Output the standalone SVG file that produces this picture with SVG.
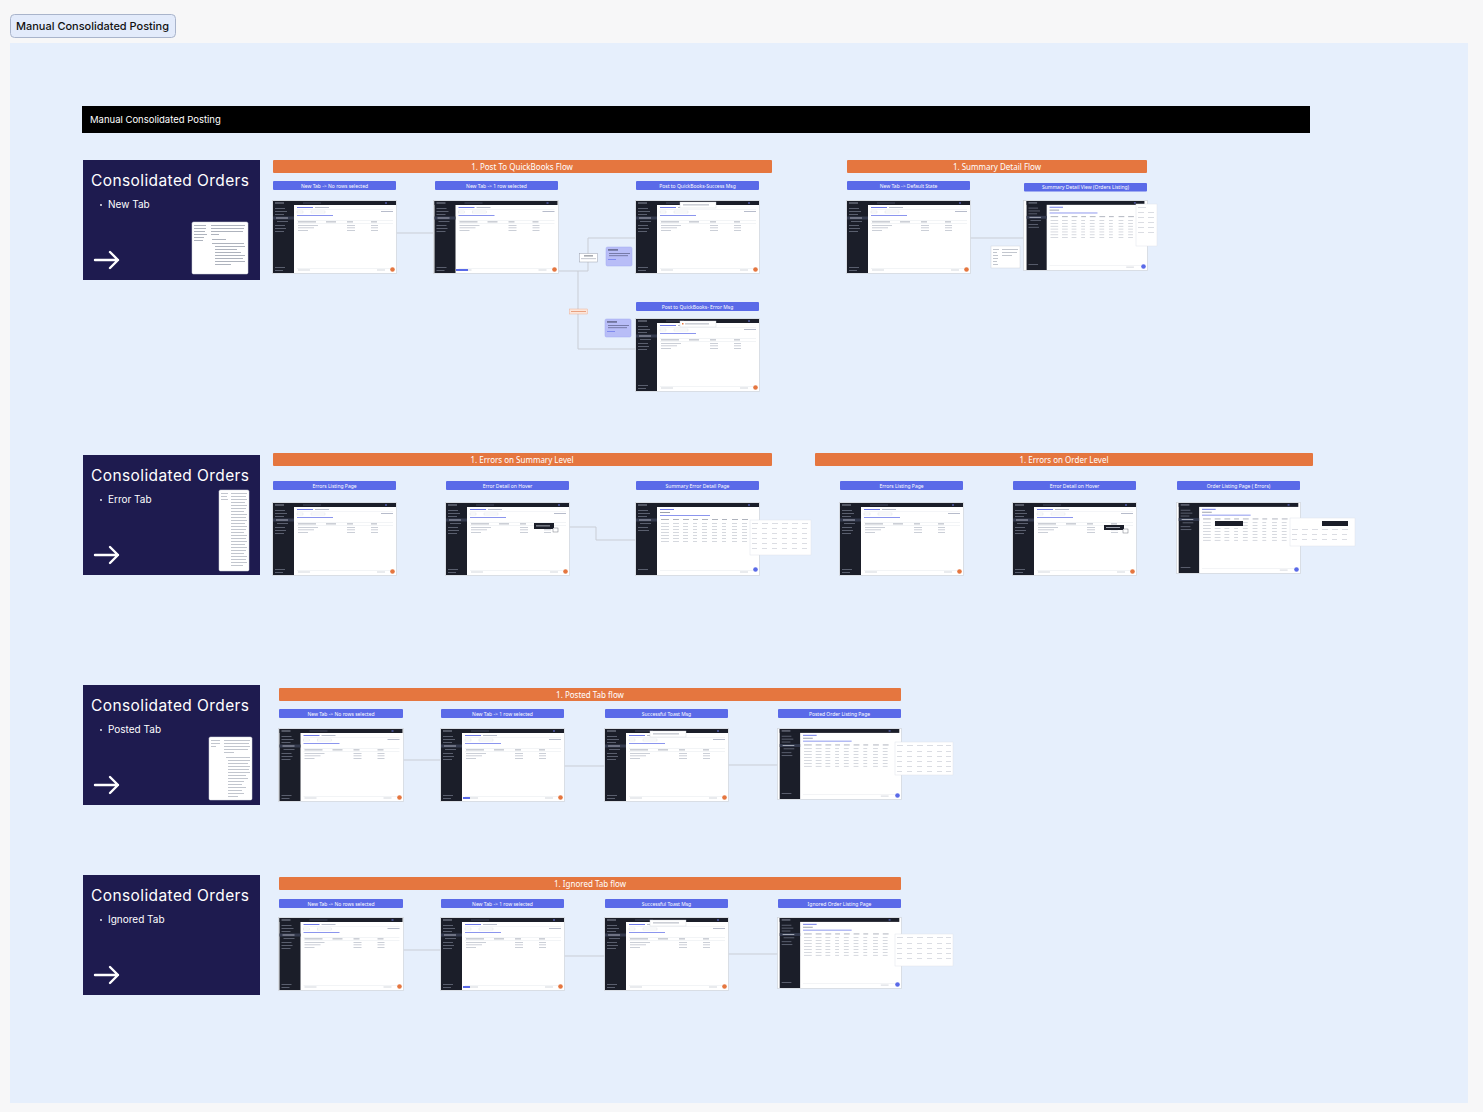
<svg xmlns="http://www.w3.org/2000/svg" xmlns:xlink="http://www.w3.org/1999/xlink" width="1483" height="1112" viewBox="0 0 1483 1112">
<style>
.card{fill:#1e1b4f}
.ctitle{font-family:Inter,"Noto Sans",sans-serif;font-size:15.5px;fill:#ffffff}
.cbullet{font-family:Inter,"Noto Sans",sans-serif;font-size:10px;fill:#ffffff}
.arrow{fill:none;stroke:#ffffff;stroke-width:2.4;stroke-linecap:round;stroke-linejoin:round}
.obar{fill:#e5763f}
.otext{font-family:"Noto Sans",sans-serif;font-size:8px;fill:#ffffff;text-anchor:middle}
.blab{fill:#5a6ae8}
.btext{font-family:"Noto Sans",sans-serif;font-size:5px;fill:#ffffff;text-anchor:middle}
.frameshot{fill:#ffffff;stroke:#d3d7df;stroke-width:0.8}
.conn{fill:none;stroke:#c9cdd5;stroke-width:1}
.note{fill:#ffffff;stroke:#d0d4dc;stroke-width:0.5}
.nl{fill:#9aa0ad}
.lav{fill:#b8bdf7;stroke:#a3a9f0;stroke-width:0.5}
.ov{fill:#ffffff;stroke:#e0e3ea;stroke-width:0.5}
.ovl{fill:#c3c7d1}
</style>
<defs>
<symbol id="shot" viewBox="0 0 123 72">
<rect width="123" height="72" fill="#ffffff"/>
<rect width="21" height="72" fill="#1b1e29"/>
<rect width="123" height="4" fill="#1b1e29"/>
<rect x="2" y="1.5" width="9" height="1" fill="#8b90a0"/>
<rect x="30" y="1" width="18" height="2" fill="#2e3242"/>
<rect x="112" y="1.5" width="2" height="1" fill="#6d78e6"/>
<rect x="2" y="7" width="10" height="0.8" fill="#6b7080"/>
<rect x="2" y="10" width="12" height="0.8" fill="#6b7080"/>
<rect x="2" y="13" width="9" height="0.8" fill="#6b7080"/>
<rect x="0" y="15.5" width="21" height="3" fill="#343a4e"/>
<rect x="3" y="16.6" width="12" height="0.8" fill="#c5c9d4"/>
<rect x="4" y="20" width="11" height="0.8" fill="#6b7080"/>
<rect x="2" y="24" width="10" height="0.8" fill="#6b7080"/>
<rect x="2" y="27" width="11" height="0.8" fill="#6b7080"/>
<rect x="2" y="30" width="9" height="0.8" fill="#6b7080"/>
<rect x="2" y="66" width="10" height="0.8" fill="#6b7080"/>
<rect x="2" y="69" width="8" height="0.8" fill="#6b7080"/>
<rect x="24" y="6" width="16" height="1" fill="#6d78e6"/>
<rect x="42" y="6" width="14" height="1" fill="#b7bccb"/>
<rect x="24" y="8" width="96" height="0.4" fill="#e3e6ec"/>
<rect x="24" y="10" width="6" height="2" fill="none" stroke="#c9cdd8" stroke-width="0.3"/>
<rect x="38" y="10" width="14" height="2" fill="none" stroke="#c9cdd8" stroke-width="0.3"/>
<rect x="108" y="10" width="12" height="1" fill="#b7bccb"/>
<rect x="24" y="14" width="36" height="1" fill="#8b95ee"/>
<rect x="24" y="19" width="96" height="0.4" fill="#dfe2e8"/>
<rect x="25" y="20.5" width="18" height="0.8" fill="#9aa0ad"/>
<rect x="53" y="20.5" width="10" height="0.8" fill="#9aa0ad"/>
<rect x="74" y="20.5" width="6" height="0.8" fill="#9aa0ad"/>
<rect x="98" y="20.5" width="6" height="0.8" fill="#9aa0ad"/>
<rect x="24" y="22.5" width="96" height="0.4" fill="#dfe2e8"/>
<rect x="25" y="24" width="20" height="0.7" fill="#b5bac6"/>
<rect x="74" y="24" width="8" height="0.7" fill="#b5bac6"/>
<rect x="98" y="24" width="7" height="0.7" fill="#b5bac6"/>
<rect x="25" y="26.5" width="16" height="0.7" fill="#b5bac6"/>
<rect x="74" y="26.5" width="8" height="0.7" fill="#b5bac6"/>
<rect x="98" y="26.5" width="7" height="0.7" fill="#b5bac6"/>
<rect x="25" y="29" width="10" height="0.7" fill="#b5bac6"/>
<rect x="74" y="29" width="8" height="0.7" fill="#b5bac6"/>
<rect x="98" y="29" width="7" height="0.7" fill="#b5bac6"/>
<rect x="24" y="67" width="96" height="0.4" fill="#dfe2e8"/>
<rect x="25" y="68.5" width="12" height="1" fill="#d4d7de"/>
<rect x="104" y="68.5" width="8" height="1" fill="#d4d7de"/>
</symbol>
<symbol id="shotT" viewBox="0 0 123 72">
<rect width="123" height="72" fill="#ffffff"/>
<rect width="21" height="72" fill="#1b1e29"/>
<rect width="123" height="4" fill="#1b1e29"/>
<rect x="2" y="1.5" width="9" height="1" fill="#8b90a0"/>
<rect x="112" y="1.5" width="2" height="1" fill="#6d78e6"/>
<rect x="2" y="7" width="10" height="0.8" fill="#6b7080"/>
<rect x="2" y="10" width="12" height="0.8" fill="#6b7080"/>
<rect x="2" y="13" width="9" height="0.8" fill="#6b7080"/>
<rect x="0" y="15.5" width="21" height="3" fill="#343a4e"/>
<rect x="3" y="16.6" width="12" height="0.8" fill="#c5c9d4"/>
<rect x="4" y="20" width="11" height="0.8" fill="#6b7080"/>
<rect x="2" y="24" width="10" height="0.8" fill="#6b7080"/>
<rect x="2" y="27" width="11" height="0.8" fill="#6b7080"/>
<rect x="2" y="66" width="10" height="0.8" fill="#6b7080"/>
<rect x="24" y="6" width="14" height="1" fill="#6d78e6"/>
<rect x="24" y="9" width="10" height="1" fill="#9aa0ad"/>
<rect x="24" y="12" width="50" height="1" fill="#8b95ee"/>
<g fill="#9aa0ad">
<rect x="25" y="16" width="8" height="0.8"/><rect x="37" y="16" width="6" height="0.8"/><rect x="47" y="16" width="6" height="0.8"/><rect x="57" y="16" width="5" height="0.8"/><rect x="66" y="16" width="6" height="0.8"/><rect x="76" y="16" width="6" height="0.8"/><rect x="86" y="16" width="5" height="0.8"/><rect x="96" y="16" width="6" height="0.8"/><rect x="106" y="16" width="6" height="0.8"/>
</g>
<g fill="#b9bec9">
<rect x="25" y="20" width="8" height="0.6"/><rect x="37" y="20" width="6" height="0.6"/><rect x="47" y="20" width="5" height="0.6"/><rect x="57" y="20" width="4" height="0.6"/><rect x="66" y="20" width="5" height="0.6"/><rect x="76" y="20" width="5" height="0.6"/><rect x="86" y="20" width="4" height="0.6"/><rect x="96" y="20" width="5" height="0.6"/><rect x="106" y="20" width="5" height="0.6"/>
<rect x="25" y="23" width="8" height="0.6"/><rect x="37" y="23" width="6" height="0.6"/><rect x="47" y="23" width="5" height="0.6"/><rect x="57" y="23" width="4" height="0.6"/><rect x="66" y="23" width="5" height="0.6"/><rect x="76" y="23" width="5" height="0.6"/><rect x="86" y="23" width="4" height="0.6"/><rect x="96" y="23" width="5" height="0.6"/><rect x="106" y="23" width="5" height="0.6"/>
<rect x="25" y="26" width="8" height="0.6"/><rect x="37" y="26" width="6" height="0.6"/><rect x="47" y="26" width="5" height="0.6"/><rect x="57" y="26" width="4" height="0.6"/><rect x="66" y="26" width="5" height="0.6"/><rect x="76" y="26" width="5" height="0.6"/><rect x="86" y="26" width="4" height="0.6"/><rect x="96" y="26" width="5" height="0.6"/><rect x="106" y="26" width="5" height="0.6"/>
<rect x="25" y="29" width="8" height="0.6"/><rect x="37" y="29" width="6" height="0.6"/><rect x="47" y="29" width="5" height="0.6"/><rect x="57" y="29" width="4" height="0.6"/><rect x="66" y="29" width="5" height="0.6"/><rect x="76" y="29" width="5" height="0.6"/><rect x="86" y="29" width="4" height="0.6"/><rect x="96" y="29" width="5" height="0.6"/><rect x="106" y="29" width="5" height="0.6"/>
<rect x="25" y="32" width="8" height="0.6"/><rect x="37" y="32" width="6" height="0.6"/><rect x="47" y="32" width="5" height="0.6"/><rect x="57" y="32" width="4" height="0.6"/><rect x="66" y="32" width="5" height="0.6"/><rect x="76" y="32" width="5" height="0.6"/><rect x="86" y="32" width="4" height="0.6"/><rect x="96" y="32" width="5" height="0.6"/><rect x="106" y="32" width="5" height="0.6"/>
<rect x="25" y="35" width="8" height="0.6"/><rect x="37" y="35" width="6" height="0.6"/><rect x="47" y="35" width="5" height="0.6"/><rect x="57" y="35" width="4" height="0.6"/><rect x="66" y="35" width="5" height="0.6"/><rect x="76" y="35" width="5" height="0.6"/><rect x="86" y="35" width="4" height="0.6"/><rect x="96" y="35" width="5" height="0.6"/><rect x="106" y="35" width="5" height="0.6"/>
<rect x="25" y="38" width="8" height="0.6"/><rect x="37" y="38" width="6" height="0.6"/><rect x="47" y="38" width="5" height="0.6"/><rect x="57" y="38" width="4" height="0.6"/><rect x="66" y="38" width="5" height="0.6"/><rect x="76" y="38" width="5" height="0.6"/><rect x="86" y="38" width="4" height="0.6"/><rect x="96" y="38" width="5" height="0.6"/><rect x="106" y="38" width="5" height="0.6"/>
</g>
<rect x="24" y="67" width="96" height="0.4" fill="#dfe2e8"/>
<rect x="104" y="68.5" width="8" height="1" fill="#d4d7de"/>
</symbol>
</defs>

<rect width="1483" height="1112" fill="#f7f7f8"/>
<rect x="10" y="43" width="1458" height="1060" fill="#e6effc"/>

<g id="title-tag">
<rect x="10.5" y="14.5" width="165" height="23" rx="4" fill="#e3ebfb" stroke="#a9b4cb" stroke-width="1"/>
<text x="16" y="30" font-family="Inter,'Noto Sans',sans-serif" font-size="11" font-weight="500" fill="#111111" textLength="153" lengthAdjust="spacingAndGlyphs">Manual Consolidated Posting</text>
</g>

<g id="header-bar">
<rect x="82" y="106" width="1228" height="27" fill="#000000"/>
<text x="90" y="123" font-family="Inter,'Noto Sans',sans-serif" font-size="9.5" fill="#ffffff">Manual Consolidated Posting</text>
</g>

<g id="connectors">
<path class="conn" d="M396,233 H434"/>
<path class="conn" d="M558,271 H588 V238 H636"/>
<path class="conn" d="M578,271 V349 H636"/>
<path class="conn" d="M970,238 H1024"/>
<path class="conn" d="M569,527 H596 V540 H636"/>
<path class="conn" d="M403,760 H441"/>
<path class="conn" d="M510,797 V766 H605"/>
<path class="conn" d="M728,765 H778"/>
<path class="conn" d="M403,950 H441"/>
<path class="conn" d="M537,986 V956 H605"/>
<path class="conn" d="M728,954 H778"/>
</g>

<!-- Cards -->
<g id="card-new">
<rect class="card" x="83" y="160" width="177" height="120"/>
<text class="ctitle" x="91" y="186" textLength="158">Consolidated Orders</text>
<circle cx="101" cy="205" r="0.9" fill="#ffffff"/>
<text class="cbullet" x="108" y="208">New Tab</text>
<path class="arrow" d="M95,260 H118 M110,252 L118,260 L110,268"/>
<rect class="note" x="192" y="222" width="56" height="52" rx="1.5"/>
<g class="nl">
<rect x="194" y="225" width="12" height="0.8"/><rect x="194" y="228" width="12" height="0.8"/><rect x="194" y="231" width="11" height="0.8"/><rect x="194" y="234" width="13" height="0.8"/><rect x="194" y="237" width="10" height="0.8"/><rect x="194" y="240" width="9" height="0.8"/>
<rect x="211" y="225" width="34" height="0.8"/><rect x="211" y="228" width="33" height="0.8"/><rect x="211" y="231" width="32" height="0.8"/><rect x="211" y="234" width="8" height="0.8"/><rect x="212" y="239" width="14" height="0.8"/><rect x="212" y="243" width="32" height="0.8"/><rect x="215" y="246" width="30" height="0.8"/><rect x="215" y="249" width="22" height="0.8"/><rect x="215" y="252" width="26" height="0.8"/><rect x="215" y="255" width="30" height="0.8"/><rect x="215" y="258" width="28" height="0.8"/><rect x="215" y="261" width="30" height="0.8"/><rect x="215" y="264" width="16" height="0.8"/>
</g>
</g>

<g id="card-error">
<rect class="card" x="83" y="455" width="177" height="120"/>
<text class="ctitle" x="91" y="481" textLength="158">Consolidated Orders</text>
<circle cx="101" cy="500" r="0.9" fill="#ffffff"/>
<text class="cbullet" x="108" y="503">Error Tab</text>
<path class="arrow" d="M95,555 H118 M110,547 L118,555 L110,563"/>
<rect class="note" x="219" y="490" width="30" height="81" rx="1.5"/>
<g class="nl">
<rect x="221" y="493" width="7" height="0.6"/><rect x="221" y="496" width="6" height="0.6"/><rect x="221" y="499" width="7" height="0.6"/>
<rect x="231" y="493" width="16" height="0.6"/><rect x="231" y="496" width="15" height="0.6"/><rect x="231" y="499" width="16" height="0.6"/><rect x="231" y="502" width="14" height="0.6"/><rect x="231" y="505" width="16" height="0.6"/><rect x="231" y="508" width="15" height="0.6"/><rect x="231" y="511" width="13" height="0.6"/><rect x="231" y="514" width="16" height="0.6"/><rect x="231" y="517" width="15" height="0.6"/><rect x="231" y="520" width="16" height="0.6"/><rect x="231" y="523" width="14" height="0.6"/><rect x="231" y="526" width="16" height="0.6"/><rect x="231" y="529" width="15" height="0.6"/><rect x="231" y="532" width="13" height="0.6"/><rect x="231" y="535" width="16" height="0.6"/><rect x="231" y="538" width="15" height="0.6"/><rect x="231" y="541" width="16" height="0.6"/><rect x="231" y="544" width="14" height="0.6"/><rect x="231" y="547" width="16" height="0.6"/><rect x="231" y="550" width="15" height="0.6"/><rect x="231" y="553" width="13" height="0.6"/><rect x="231" y="556" width="16" height="0.6"/><rect x="231" y="559" width="15" height="0.6"/><rect x="231" y="562" width="16" height="0.6"/><rect x="231" y="565" width="12" height="0.6"/>
</g>
</g>

<g id="card-posted">
<rect class="card" x="83" y="685" width="177" height="120"/>
<text class="ctitle" x="91" y="711" textLength="158">Consolidated Orders</text>
<circle cx="101" cy="730" r="0.9" fill="#ffffff"/>
<text class="cbullet" x="108" y="733">Posted Tab</text>
<path class="arrow" d="M95,785 H118 M110,777 L118,785 L110,793"/>
<rect class="note" x="209" y="737" width="43" height="63" rx="1.5"/>
<g class="nl">
<rect x="211" y="740" width="9" height="0.6"/><rect x="211" y="743" width="9" height="0.6"/><rect x="211" y="746" width="5" height="0.6"/>
<rect x="224" y="740" width="26" height="0.6"/><rect x="224" y="743" width="25" height="0.6"/><rect x="224" y="746" width="26" height="0.6"/><rect x="224" y="749" width="24" height="0.6"/><rect x="224" y="752" width="10" height="0.6"/><rect x="226" y="757" width="24" height="0.6"/><rect x="228" y="760" width="22" height="0.6"/><rect x="228" y="763" width="20" height="0.6"/><rect x="228" y="766" width="22" height="0.6"/><rect x="228" y="769" width="21" height="0.6"/><rect x="228" y="772" width="22" height="0.6"/><rect x="228" y="775" width="18" height="0.6"/><rect x="228" y="778" width="20" height="0.6"/><rect x="228" y="781" width="16" height="0.6"/><rect x="228" y="784" width="14" height="0.6"/><rect x="228" y="787" width="18" height="0.6"/><rect x="228" y="790" width="14" height="0.6"/><rect x="228" y="793" width="16" height="0.6"/><rect x="228" y="796" width="10" height="0.6"/>
</g>
</g>

<g id="card-ignored">
<rect class="card" x="83" y="875" width="177" height="120"/>
<text class="ctitle" x="91" y="901" textLength="158">Consolidated Orders</text>
<circle cx="101" cy="920" r="0.9" fill="#ffffff"/>
<text class="cbullet" x="108" y="923">Ignored Tab</text>
<path class="arrow" d="M95,975 H118 M110,967 L118,975 L110,983"/>
</g>

<!-- Section 1 -->
<g id="flow-post-qb">
<rect class="obar" x="273" y="160" width="499" height="13" rx="1"/>
<text class="otext" x="522" y="169.5">1. Post To QuickBooks Flow</text>
</g>
<g id="s1-no-rows">
<rect class="blab" x="273" y="181" width="123" height="9" rx="1"/>
<text class="btext" x="334.5" y="187.5">New Tab -&gt; No rows selected</text>
<rect class="frameshot" x="272.5" y="200.5" width="124" height="73"/>
<use href="#shot" x="273" y="201" width="123" height="72"/>
<circle cx="392.5" cy="269.5" r="2.3" fill="#e5763f"/>
</g>
<g id="s1-one-row">
<rect class="blab" x="435" y="181" width="123" height="9" rx="1"/>
<text class="btext" x="496.5" y="187.5">New Tab -&gt; 1 row selected</text>
<rect class="frameshot" x="433.5" y="200.5" width="125" height="73"/>
<use href="#shot" x="434" y="201" width="124" height="72"/>
<rect x="456" y="269" width="12" height="2" fill="#5a6ae8"/>
<circle cx="554.5" cy="269.5" r="2.3" fill="#e5763f"/>
</g>
<g id="s1-success">
<rect class="blab" x="636" y="181" width="123" height="9" rx="1"/>
<text class="btext" x="697.5" y="187.5">Post to QuickBooks-Success Msg</text>
<rect class="frameshot" x="635.5" y="200.5" width="124" height="73"/>
<use href="#shot" x="636" y="201" width="123" height="72"/>
<rect x="680" y="202" width="36" height="6" fill="#ffffff" stroke="#d0d4dc" stroke-width="0.4"/>
<rect x="683" y="204.5" width="26" height="0.8" fill="#9aa0ad"/>
<circle cx="755.5" cy="269.5" r="2.3" fill="#e5763f"/>
</g>
<g id="s1-error">
<rect class="blab" x="636" y="302" width="123" height="9" rx="1"/>
<text class="btext" x="697.5" y="308.5">Post to QuickBooks- Error Msg</text>
<rect class="frameshot" x="635.5" y="318.5" width="124" height="73"/>
<use href="#shot" x="636" y="319" width="123" height="72"/>
<rect x="680" y="321" width="36" height="6" fill="#ffffff" stroke="#d0d4dc" stroke-width="0.4"/>
<rect x="682" y="323" width="1.5" height="1.5" fill="#e5763f"/>
<rect x="685" y="323.5" width="24" height="0.8" fill="#9aa0ad"/>
<circle cx="755.5" cy="387.5" r="2.3" fill="#e5763f"/>
</g>
<g id="s1-labels">
<rect x="579.5" y="253.5" width="18" height="8.5" fill="#ffffff" stroke="#9aa0ad" stroke-width="0.5"/>
<rect x="584" y="255.5" width="9" height="0.8" fill="#555a66"/>
<rect x="581" y="258.5" width="15" height="0.6" fill="#9aa0ad"/>
<rect x="569.5" y="309" width="18" height="5" fill="#fbe6dc" stroke="#eea584" stroke-width="0.4"/>
<rect x="571" y="311" width="15" height="0.8" fill="#e5906a"/>
<rect class="lav" x="606" y="247" width="26" height="19" rx="1.5"/>
<rect x="608" y="249.5" width="10" height="0.9" fill="#2a2d45"/>
<rect x="609" y="253" width="21" height="0.6" fill="#4a4e72"/>
<rect x="609" y="255.5" width="19" height="0.6" fill="#4a4e72"/>
<rect x="608" y="259" width="8" height="0.6" fill="#5a6ae8"/>
<rect class="lav" x="605" y="319" width="26" height="18" rx="1.5"/>
<rect x="607" y="321.5" width="10" height="0.9" fill="#2a2d45"/>
<rect x="608" y="325" width="21" height="0.6" fill="#4a4e72"/>
<rect x="608" y="327.5" width="19" height="0.6" fill="#4a4e72"/>
<rect x="607" y="331" width="8" height="0.6" fill="#5a6ae8"/>
</g>

<g id="flow-summary-detail">
<rect class="obar" x="847" y="160" width="300" height="13" rx="1"/>
<text class="otext" x="997" y="169.5">1. Summary Detail Flow</text>
</g>
<g id="s1-default">
<rect class="blab" x="847" y="181" width="123" height="9" rx="1"/>
<text class="btext" x="908.5" y="187.5">New Tab -&gt; Default State</text>
<rect class="frameshot" x="846.5" y="200.5" width="124" height="73"/>
<use href="#shot" x="847" y="201" width="123" height="72"/>
<circle cx="966.5" cy="269.5" r="2.3" fill="#e5763f"/>
</g>
<g id="s1-summary-view">
<rect class="blab" x="1024" y="183" width="123" height="8.5" rx="1"/>
<text class="btext" x="1085.5" y="189">Summary Detail View (Orders Listing)</text>
<rect class="frameshot" x="1023.5" y="200.5" width="124" height="70"/>
<use href="#shotT" x="1024" y="201" width="123" height="69"/>
<rect class="ov" x="1136" y="204" width="21" height="42"/>
<g class="ovl"><rect x="1138" y="207" width="8" height="0.6"/><rect x="1138" y="212" width="6" height="0.6"/><rect x="1148" y="212" width="6" height="0.6"/><rect x="1138" y="217" width="6" height="0.6"/><rect x="1148" y="217" width="6" height="0.6"/><rect x="1138" y="222" width="6" height="0.6"/><rect x="1148" y="222" width="6" height="0.6"/><rect x="1138" y="227" width="6" height="0.6"/><rect x="1148" y="227" width="6" height="0.6"/><rect x="1138" y="232" width="6" height="0.6"/><rect x="1148" y="232" width="6" height="0.6"/></g>
<circle cx="1143.5" cy="266.5" r="2.3" fill="#5a6ae8"/>
<rect class="note" x="991" y="246" width="29" height="22"/>
<g class="nl"><rect x="993" y="249" width="6" height="0.6"/><rect x="1002" y="249" width="16" height="0.6"/><rect x="1002" y="252" width="15" height="0.6"/><rect x="1002" y="255" width="10" height="0.6"/><rect x="993" y="252" width="4" height="0.6"/><rect x="993" y="255" width="5" height="0.6"/><rect x="993" y="258" width="5" height="0.6"/><rect x="993" y="261" width="4" height="0.6"/><rect x="993" y="264" width="5" height="0.6"/></g>
</g>

<!-- Section 2 -->
<g id="flow-errors-summary">
<rect class="obar" x="273" y="453" width="499" height="13" rx="1"/>
<text class="otext" x="522" y="462.5">1. Errors on Summary Level</text>
</g>
<g id="s2-errors-listing">
<rect class="blab" x="273" y="481" width="123" height="9" rx="1"/>
<text class="btext" x="334.5" y="487.5">Errors Listing Page</text>
<rect class="frameshot" x="272.5" y="502.5" width="124" height="73"/>
<use href="#shot" x="273" y="503" width="123" height="72"/>
<circle cx="392.5" cy="571.5" r="2.3" fill="#e5763f"/>
</g>
<g id="s2-error-hover">
<rect class="blab" x="446" y="481" width="123" height="9" rx="1"/>
<text class="btext" x="507.5" y="487.5">Error Detail on Hover</text>
<rect class="frameshot" x="445.5" y="502.5" width="124" height="73"/>
<use href="#shot" x="446" y="503" width="123" height="72"/>
<rect x="534" y="523" width="20" height="6" fill="#1b1e29"/>
<rect x="536" y="525.5" width="14" height="0.8" fill="#c5c9d4"/>
<rect x="553" y="528" width="5" height="4" fill="#ffffff" stroke="#555a66" stroke-width="0.4"/>
<circle cx="565.5" cy="571.5" r="2.3" fill="#e5763f"/>
</g>
<g id="s2-summary-error-detail">
<rect class="blab" x="636" y="481" width="123" height="9" rx="1"/>
<text class="btext" x="697.5" y="487.5">Summary Error Detail Page</text>
<rect class="frameshot" x="635.5" y="502.5" width="124" height="73"/>
<use href="#shotT" x="636" y="503" width="123" height="72"/>
<rect class="ov" x="750" y="520" width="61" height="35"/>
<g class="ovl"><rect x="752" y="523" width="6" height="0.6"/><rect x="762" y="523" width="6" height="0.6"/><rect x="772" y="523" width="6" height="0.6"/><rect x="782" y="523" width="6" height="0.6"/><rect x="792" y="523" width="6" height="0.6"/><rect x="802" y="523" width="6" height="0.6"/>
<rect x="752" y="528" width="5" height="0.6"/><rect x="762" y="528" width="5" height="0.6"/><rect x="772" y="528" width="5" height="0.6"/><rect x="782" y="528" width="5" height="0.6"/><rect x="792" y="528" width="5" height="0.6"/><rect x="802" y="528" width="5" height="0.6"/>
<rect x="752" y="533" width="5" height="0.6"/><rect x="762" y="533" width="5" height="0.6"/><rect x="772" y="533" width="5" height="0.6"/><rect x="782" y="533" width="5" height="0.6"/><rect x="792" y="533" width="5" height="0.6"/><rect x="802" y="533" width="5" height="0.6"/>
<rect x="752" y="538" width="5" height="0.6"/><rect x="762" y="538" width="5" height="0.6"/><rect x="772" y="538" width="5" height="0.6"/><rect x="782" y="538" width="5" height="0.6"/><rect x="792" y="538" width="5" height="0.6"/><rect x="802" y="538" width="5" height="0.6"/>
<rect x="752" y="543" width="5" height="0.6"/><rect x="762" y="543" width="5" height="0.6"/><rect x="772" y="543" width="5" height="0.6"/><rect x="782" y="543" width="5" height="0.6"/><rect x="792" y="543" width="5" height="0.6"/><rect x="802" y="543" width="5" height="0.6"/>
<rect x="752" y="548" width="5" height="0.6"/><rect x="762" y="548" width="5" height="0.6"/><rect x="772" y="548" width="5" height="0.6"/><rect x="782" y="548" width="5" height="0.6"/><rect x="792" y="548" width="5" height="0.6"/><rect x="802" y="548" width="5" height="0.6"/></g>
<circle cx="755.5" cy="569.5" r="2.3" fill="#5a6ae8"/>
</g>

<g id="flow-errors-order">
<rect class="obar" x="815" y="453" width="498" height="13" rx="1"/>
<text class="otext" x="1064" y="462.5">1. Errors on Order Level</text>
</g>
<g id="s2-order-errors-listing">
<rect class="blab" x="840" y="481" width="123" height="9" rx="1"/>
<text class="btext" x="901.5" y="487.5">Errors Listing Page</text>
<rect class="frameshot" x="839.5" y="502.5" width="124" height="73"/>
<use href="#shot" x="840" y="503" width="123" height="72"/>
<circle cx="959.5" cy="571.5" r="2.3" fill="#e5763f"/>
</g>
<g id="s2-order-error-hover">
<rect class="blab" x="1013" y="481" width="123" height="9" rx="1"/>
<text class="btext" x="1074.5" y="487.5">Error Detail on Hover</text>
<rect class="frameshot" x="1012.5" y="502.5" width="124" height="73"/>
<use href="#shot" x="1013" y="503" width="123" height="72"/>
<rect x="1104" y="525" width="20" height="5" fill="#1b1e29"/>
<rect x="1106" y="527" width="14" height="0.8" fill="#c5c9d4"/>
<rect x="1123" y="529" width="5" height="4" fill="#ffffff" stroke="#555a66" stroke-width="0.4"/>
<circle cx="1132.5" cy="571.5" r="2.3" fill="#e5763f"/>
</g>
<g id="s2-order-listing-errors">
<rect class="blab" x="1177" y="481" width="123" height="9" rx="1"/>
<text class="btext" x="1238.5" y="487.5">Order Listing Page ( Errors)</text>
<rect class="frameshot" x="1176.5" y="502.5" width="124" height="71"/>
<use href="#shotT" x="1177" y="503" width="123" height="70"/>
<rect x="1215" y="521" width="28" height="5" fill="#1b1e29"/>
<rect class="ov" x="1290" y="518" width="65" height="28"/>
<rect x="1322" y="521" width="26" height="5" fill="#1b1e29"/>
<g class="ovl"><rect x="1292" y="529" width="6" height="0.6"/><rect x="1302" y="529" width="6" height="0.6"/><rect x="1312" y="529" width="6" height="0.6"/><rect x="1322" y="529" width="6" height="0.6"/><rect x="1332" y="529" width="6" height="0.6"/><rect x="1342" y="529" width="6" height="0.6"/>
<rect x="1292" y="534" width="5" height="0.6"/><rect x="1302" y="534" width="5" height="0.6"/><rect x="1312" y="534" width="5" height="0.6"/><rect x="1322" y="534" width="5" height="0.6"/><rect x="1332" y="534" width="5" height="0.6"/><rect x="1342" y="534" width="5" height="0.6"/>
<rect x="1292" y="539" width="5" height="0.6"/><rect x="1302" y="539" width="5" height="0.6"/><rect x="1312" y="539" width="5" height="0.6"/><rect x="1322" y="539" width="5" height="0.6"/><rect x="1332" y="539" width="5" height="0.6"/><rect x="1342" y="539" width="5" height="0.6"/></g>
<circle cx="1296.5" cy="569.5" r="2.3" fill="#5a6ae8"/>
</g>

<!-- Section 3 -->
<g id="flow-posted">
<rect class="obar" x="279" y="688" width="622" height="13" rx="1"/>
<text class="otext" x="590" y="697.5">1. Posted Tab flow</text>
</g>
<g id="s3-no-rows">
<rect class="blab" x="279" y="709" width="124" height="9" rx="1"/>
<text class="btext" x="341" y="715.5">New Tab -&gt; No rows selected</text>
<rect class="frameshot" x="278.5" y="728.5" width="125" height="73"/>
<use href="#shot" x="279" y="729" width="124" height="72"/>
<circle cx="399.5" cy="797.5" r="2.3" fill="#e5763f"/>
</g>
<g id="s3-one-row">
<rect class="blab" x="441" y="709" width="123" height="9" rx="1"/>
<text class="btext" x="502.5" y="715.5">New Tab -&gt; 1 row selected</text>
<rect class="frameshot" x="440.5" y="728.5" width="124" height="73"/>
<use href="#shot" x="441" y="729" width="123" height="72"/>
<rect x="463" y="797" width="7" height="2" fill="#5a6ae8"/>
<circle cx="560.5" cy="797.5" r="2.3" fill="#e5763f"/>
</g>
<g id="s3-toast">
<rect class="blab" x="605" y="709" width="123" height="9" rx="1"/>
<text class="btext" x="666.5" y="715.5">Successful Toast Msg</text>
<rect class="frameshot" x="604.5" y="728.5" width="124" height="73"/>
<use href="#shot" x="605" y="729" width="123" height="72"/>
<rect x="650" y="731" width="36" height="6" fill="#ffffff" stroke="#d0d4dc" stroke-width="0.4"/>
<rect x="653" y="733.5" width="26" height="0.8" fill="#9aa0ad"/>
<circle cx="724.5" cy="797.5" r="2.3" fill="#e5763f"/>
</g>
<g id="s3-posted-listing">
<rect class="blab" x="778" y="709" width="123" height="9" rx="1"/>
<text class="btext" x="839.5" y="715.5">Posted Order Listing Page</text>
<rect class="frameshot" x="777.5" y="728.5" width="124" height="71"/>
<use href="#shotT" x="778" y="729" width="123" height="70"/>
<rect class="ov" x="895" y="742" width="58" height="33"/>
<g class="ovl"><rect x="897" y="745" width="6" height="0.6"/><rect x="907" y="745" width="6" height="0.6"/><rect x="917" y="745" width="6" height="0.6"/><rect x="927" y="745" width="6" height="0.6"/><rect x="937" y="745" width="6" height="0.6"/><rect x="946" y="745" width="5" height="0.6"/>
<rect x="897" y="751" width="5" height="0.6"/><rect x="907" y="751" width="5" height="0.6"/><rect x="917" y="751" width="5" height="0.6"/><rect x="927" y="751" width="5" height="0.6"/><rect x="937" y="751" width="5" height="0.6"/><rect x="946" y="751" width="5" height="0.6"/>
<rect x="897" y="756" width="5" height="0.6"/><rect x="907" y="756" width="5" height="0.6"/><rect x="917" y="756" width="5" height="0.6"/><rect x="927" y="756" width="5" height="0.6"/><rect x="937" y="756" width="5" height="0.6"/><rect x="946" y="756" width="5" height="0.6"/>
<rect x="897" y="761" width="5" height="0.6"/><rect x="907" y="761" width="5" height="0.6"/><rect x="917" y="761" width="5" height="0.6"/><rect x="927" y="761" width="5" height="0.6"/><rect x="937" y="761" width="5" height="0.6"/><rect x="946" y="761" width="5" height="0.6"/>
<rect x="897" y="766" width="5" height="0.6"/><rect x="907" y="766" width="5" height="0.6"/><rect x="917" y="766" width="5" height="0.6"/><rect x="927" y="766" width="5" height="0.6"/><rect x="937" y="766" width="5" height="0.6"/><rect x="946" y="766" width="5" height="0.6"/>
<rect x="897" y="771" width="5" height="0.6"/><rect x="907" y="771" width="5" height="0.6"/><rect x="917" y="771" width="5" height="0.6"/><rect x="927" y="771" width="5" height="0.6"/><rect x="937" y="771" width="5" height="0.6"/><rect x="946" y="771" width="5" height="0.6"/></g>
<circle cx="897.5" cy="795.5" r="2.3" fill="#5a6ae8"/>
</g>

<!-- Section 4 -->
<g id="flow-ignored">
<rect class="obar" x="279" y="877" width="622" height="13" rx="1"/>
<text class="otext" x="590" y="886.5">1. Ignored Tab flow</text>
</g>
<g id="s4-no-rows">
<rect class="blab" x="279" y="899" width="124" height="9" rx="1"/>
<text class="btext" x="341" y="905.5">New Tab -&gt; No rows selected</text>
<rect class="frameshot" x="278.5" y="917.5" width="125" height="73"/>
<use href="#shot" x="279" y="918" width="124" height="72"/>
<circle cx="399.5" cy="986.5" r="2.3" fill="#e5763f"/>
</g>
<g id="s4-one-row">
<rect class="blab" x="441" y="899" width="123" height="9" rx="1"/>
<text class="btext" x="502.5" y="905.5">New Tab -&gt; 1 row selected</text>
<rect class="frameshot" x="440.5" y="917.5" width="124" height="73"/>
<use href="#shot" x="441" y="918" width="123" height="72"/>
<rect x="463" y="986" width="7" height="2" fill="#5a6ae8"/>
<circle cx="560.5" cy="986.5" r="2.3" fill="#e5763f"/>
</g>
<g id="s4-toast">
<rect class="blab" x="605" y="899" width="123" height="9" rx="1"/>
<text class="btext" x="666.5" y="905.5">Successful Toast Msg</text>
<rect class="frameshot" x="604.5" y="917.5" width="124" height="73"/>
<use href="#shot" x="605" y="918" width="123" height="72"/>
<rect x="650" y="920" width="36" height="6" fill="#ffffff" stroke="#d0d4dc" stroke-width="0.4"/>
<rect x="653" y="922.5" width="26" height="0.8" fill="#9aa0ad"/>
<circle cx="724.5" cy="986.5" r="2.3" fill="#e5763f"/>
</g>
<g id="s4-ignored-listing">
<rect class="blab" x="778" y="899" width="123" height="9" rx="1"/>
<text class="btext" x="839.5" y="905.5">Ignored Order Listing Page</text>
<rect class="frameshot" x="777.5" y="917.5" width="124" height="71"/>
<use href="#shotT" x="778" y="918" width="123" height="70"/>
<rect class="ov" x="895" y="934" width="58" height="32"/>
<g class="ovl"><rect x="897" y="937" width="6" height="0.6"/><rect x="907" y="937" width="6" height="0.6"/><rect x="917" y="937" width="6" height="0.6"/><rect x="927" y="937" width="6" height="0.6"/><rect x="937" y="937" width="6" height="0.6"/><rect x="946" y="937" width="5" height="0.6"/>
<rect x="897" y="943" width="5" height="0.6"/><rect x="907" y="943" width="5" height="0.6"/><rect x="917" y="943" width="5" height="0.6"/><rect x="927" y="943" width="5" height="0.6"/><rect x="937" y="943" width="5" height="0.6"/><rect x="946" y="943" width="5" height="0.6"/>
<rect x="897" y="948" width="5" height="0.6"/><rect x="907" y="948" width="5" height="0.6"/><rect x="917" y="948" width="5" height="0.6"/><rect x="927" y="948" width="5" height="0.6"/><rect x="937" y="948" width="5" height="0.6"/><rect x="946" y="948" width="5" height="0.6"/>
<rect x="897" y="953" width="5" height="0.6"/><rect x="907" y="953" width="5" height="0.6"/><rect x="917" y="953" width="5" height="0.6"/><rect x="927" y="953" width="5" height="0.6"/><rect x="937" y="953" width="5" height="0.6"/><rect x="946" y="953" width="5" height="0.6"/>
<rect x="897" y="958" width="5" height="0.6"/><rect x="907" y="958" width="5" height="0.6"/><rect x="917" y="958" width="5" height="0.6"/><rect x="927" y="958" width="5" height="0.6"/><rect x="937" y="958" width="5" height="0.6"/><rect x="946" y="958" width="5" height="0.6"/></g>
<circle cx="897.5" cy="984.5" r="2.3" fill="#5a6ae8"/>
</g>
</svg>
